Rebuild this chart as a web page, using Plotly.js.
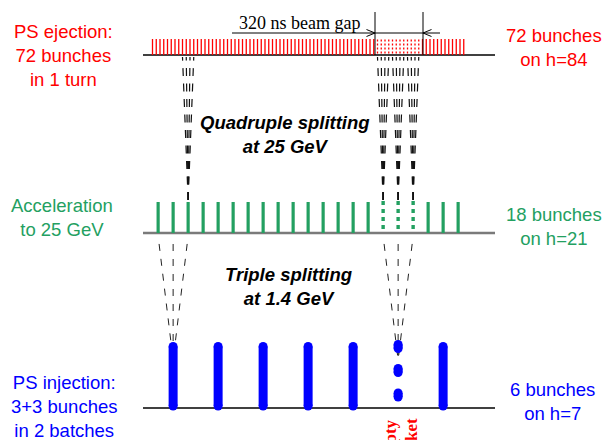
<!DOCTYPE html>
<html>
<head>
<meta charset="utf-8">
<script src="https://cdn.plot.ly/plotly-3.0.1.min.js"></script>
<style>html,body{margin:0;padding:0;background:#fff;}</style>
</head>
<body>
<div id="chart" style="width:607px;height:440px;"></div>
<script>
// ---------------- data ----------------
const EJ_H = 84;   // PS ejection harmonic
const ACC_H = 21;  // acceleration harmonic
const INJ_H = 7;   // injection harmonic

// bucket indices holding a bunch / left empty
const ejFilled = [0,1,2,3,4,5,6,7,8,9,10,11,12,13,14,15,16,17,18,19,20,21,22,23,24,25,26,27,28,29,
  30,31,32,33,34,35,36,37,38,39,40,41,42,43,44,45,46,47,48,49,50,51,52,53,54,55,56,57,58,59,
  72,73,74,75,76,77,78,79,80,81,82,83];
const ejEmpty = [60,61,62,63,64,65,66,67,68,69,70,71];
const accFilled = [0,1,2,3,4,5,6,7,8,9,10,11,12,13,14,18,19,20];
const accEmpty = [15,16,17];
const injFilled = [0,1,2,3,4,6];
const injEmpty = [5];

// splitting traces drawn in the figure
const quadSources = [2, 15, 16, 17];                       // h=21 buckets
const quadTargets = [[8,9,10,11],[60,61,62,63],[64,65,66,67],[68,69,70,71]]; // h=84 buckets
const tripleSources = [0, 5];                              // h=7 buckets
const tripleTargets = [[0,1,2],[15,16,17]];                // h=21 buckets

// text
const leftLabels = ["PS ejection:<br>72 bunches<br>in 1 turn", "Acceleration<br>to 25 GeV", "PS injection:<br>3+3 bunches<br>in 2 batches"];
const rightLabels = ["72 bunches<br>on h=84", "18 bunches<br>on h=21", "6 bunches<br>on h=7"];
const stepLabels = ["Quadruple splitting<br>at 25 GeV", "Triple splitting<br>at 1.4 GeV"];
const gapLabel = "320 ns beam gap";
const emptyLabel = ["Empty", "bucket"];

// ---------------- layout / style ----------------
const W = 607, H = 440;
const RED = "#ff0000", GREEN = "#23a061", BLUE = "#0000ff";
const SANS = "Liberation Sans, Arial, sans-serif";
const SERIF = "Liberation Serif, Times New Roman, serif";

const EJ_PX0 = 152.5, EJ_STEP = 3.75;
const ratioEA = EJ_H / ACC_H, ratioAI = ACC_H / INJ_H;
const ACC_PX0 = EJ_PX0 + EJ_STEP * (ratioEA - 1) / 2, ACC_STEP = EJ_STEP * ratioEA;
const INJ_PX0 = ACC_PX0 + ACC_STEP * (ratioAI - 1) / 2, INJ_STEP = ACC_STEP * ratioAI;
function rangeFor(px0, step) { return [-px0 / step, (W - px0) / step]; }
function accToEj(j) { return (j + 0.5) * ratioEA - 0.5; }
function injToAcc(k) { return (k + 0.5) * ratioAI - 0.5; }
function P(px) { return px / W; }

const rowEj = {base: 55, top: 39};
const rowAcc = {base: 233, top: 202};
const rowInj = {base: 408, top: 342};

function bars(buckets, y0, y1) {
  const x = [], y = [];
  buckets.forEach(b => { x.push(b, b, null); y.push(y0, y1, null); });
  return {x, y};
}

const traces = [];

// quadruple splitting tracks (on h=84 axis)
(function(){
  const x = [], y = [];
  quadSources.forEach((j, i) => {
    quadTargets[i].forEach(m => { x.push(accToEj(j), m, null); y.push(200, 57, null); });
  });
  traces.push({type:'scatter', mode:'lines', xaxis:'x', yaxis:'y', x, y,
    line:{color:'#111', width:1.2, dash:'8px,7.5px'}, hoverinfo:'skip'});
})();

// ejection bunches
let b = bars(ejFilled, rowEj.base, rowEj.top);
traces.push({type:'scatter', mode:'lines', xaxis:'x', yaxis:'y', x:b.x, y:b.y,
  line:{color:RED, width:1.3}, hoverinfo:'skip'});
b = bars(ejEmpty, rowEj.top + 0.5, rowEj.base);
traces.push({type:'scatter', mode:'lines', xaxis:'x', yaxis:'y', x:b.x, y:b.y,
  line:{color:RED, width:1.3, dash:'2px,2px'}, hoverinfo:'skip'});

// triple splitting tracks (on h=21 axis)
(function(){
  const x = [], y = [];
  tripleSources.forEach((k, i) => {
    tripleTargets[i].forEach(j => { x.push(j, injToAcc(k), null); y.push(236, 360, null); });
  });
  traces.push({type:'scatter', mode:'lines', xaxis:'x2', yaxis:'y', x, y,
    line:{color:'#222', width:1, dash:'0px,8px,7px,0px'}, hoverinfo:'skip'});
})();

// acceleration bunches
b = bars(accFilled, rowAcc.base, rowAcc.top);
traces.push({type:'scatter', mode:'lines', xaxis:'x2', yaxis:'y', x:b.x, y:b.y,
  line:{color:GREEN, width:3.2}, hoverinfo:'skip'});
b = bars(accEmpty, rowAcc.top - 1, rowAcc.base - 2);
traces.push({type:'scatter', mode:'lines', xaxis:'x2', yaxis:'y', x:b.x, y:b.y,
  line:{color:GREEN, width:3.4, dash:'4px,4px'}, hoverinfo:'skip'});

// injection bunches
b = bars(injFilled, rowInj.top + 4.5, rowInj.base - 2);
traces.push({type:'scatter', mode:'lines+markers', xaxis:'x3', yaxis:'y', x:b.x, y:b.y,
  line:{color:BLUE, width:9}, marker:{color:BLUE, size:9, symbol:'circle', line:{width:0}}, hoverinfo:'skip'});
(function(){
  const dotY = [[344.5,348.5],[368.5,372.5],[393,397]];
  const x = [], y = [];
  injEmpty.forEach(k => dotY.forEach(d => { x.push(k, k, null); y.push(d[0], d[1], null); }));
  traces.push({type:'scatter', mode:'lines+markers', xaxis:'x3', yaxis:'y', x, y,
    line:{color:BLUE, width:9}, marker:{color:BLUE, size:9, symbol:'circle', line:{width:0}}, hoverinfo:'skip'});
})();

// ---------------- shapes ----------------
const shapes = [
  {type:'line', xref:'paper', yref:'y', x0:P(143), x1:P(495), y0:rowEj.base, y1:rowEj.base, line:{color:'#000', width:1.3}, layer:'below'},
  {type:'line', xref:'paper', yref:'y', x0:P(143), x1:P(495), y0:rowAcc.base, y1:rowAcc.base, line:{color:'#7a7a7a', width:2.6}, layer:'below'},
  {type:'line', xref:'paper', yref:'y', x0:P(143), x1:P(495), y0:rowInj.base, y1:rowInj.base, line:{color:'#000', width:1.3}, layer:'below'},
  // beam gap marker
  {type:'line', xref:'paper', yref:'y', x0:P(375), x1:P(375), y0:12, y1:55, line:{color:'#000', width:1}},
  {type:'line', xref:'paper', yref:'y', x0:P(423), x1:P(423), y0:12, y1:55, line:{color:'#000', width:1}},
  {type:'line', xref:'paper', yref:'y', x0:P(232), x1:P(440), y0:33, y1:33, line:{color:'#000', width:1}},
  {type:'path', xref:'paper', yref:'y', path:`M${P(366.5)},29.5 L${P(375)},33 L${P(366.5)},36.5`, line:{color:'#000', width:1}},
  {type:'path', xref:'paper', yref:'y', path:`M${P(431.5)},29.5 L${P(423)},33 L${P(431.5)},36.5`, line:{color:'#000', width:1}}
];

// ---------------- annotations ----------------
function txt(text, px, py, color, opts) {
  return Object.assign({text, xref:'paper', yref:'y', x:P(px), y:py, showarrow:false,
    xanchor:'center', yanchor:'middle', align:'center',
    font:{family:SANS, size:18.5, color}}, opts || {});
}
const annotations = [
  txt(leftLabels[0], 63.5, 55.5, RED),
  txt(leftLabels[1], 61.5, 217.5, GREEN),
  txt(leftLabels[2], 63.5, 406, BLUE),
  txt(rightLabels[0], 554, 47.5, RED),
  txt(rightLabels[1], 554, 226.5, GREEN),
  txt(rightLabels[2], 552, 401, BLUE),
  txt("<b><i>" + stepLabels[0].replace("<br>", "</i></b><br><b><i>") + "</i></b>", 285, 134, '#000'),
  txt("<b><i>" + stepLabels[1].replace("<br>", "</i></b><br><b><i>") + "</i></b>", 288, 286.5, '#000'),
  txt(gapLabel, 299, 23, '#000', {font:{family:SERIF, size:18, color:'#000'}}),
  txt("<b>" + emptyLabel[0] + "</b>", 390, 417, RED, {textangle:-90, yanchor:'top', font:{family:SERIF, size:17, color:RED}}),
  txt("<b>" + emptyLabel[1] + "</b>", 411, 417, RED, {textangle:-90, yanchor:'top', font:{family:SERIF, size:17, color:RED}})
];

const layout = {
  width: W, height: H,
  margin: {l:0, r:0, t:0, b:0, pad:0},
  paper_bgcolor: '#fff', plot_bgcolor: '#fff',
  showlegend: false,
  xaxis:  {range: rangeFor(EJ_PX0, EJ_STEP), visible:false, fixedrange:true},
  xaxis2: {range: rangeFor(ACC_PX0, ACC_STEP), visible:false, overlaying:'x', fixedrange:true},
  xaxis3: {range: rangeFor(INJ_PX0, INJ_STEP), visible:false, overlaying:'x', fixedrange:true},
  yaxis:  {range: [H, 0], visible:false, fixedrange:true},
  shapes, annotations
};

Plotly.newPlot('chart', traces, layout, {staticPlot:true, displayModeBar:false});
</script>
</body>
</html>
